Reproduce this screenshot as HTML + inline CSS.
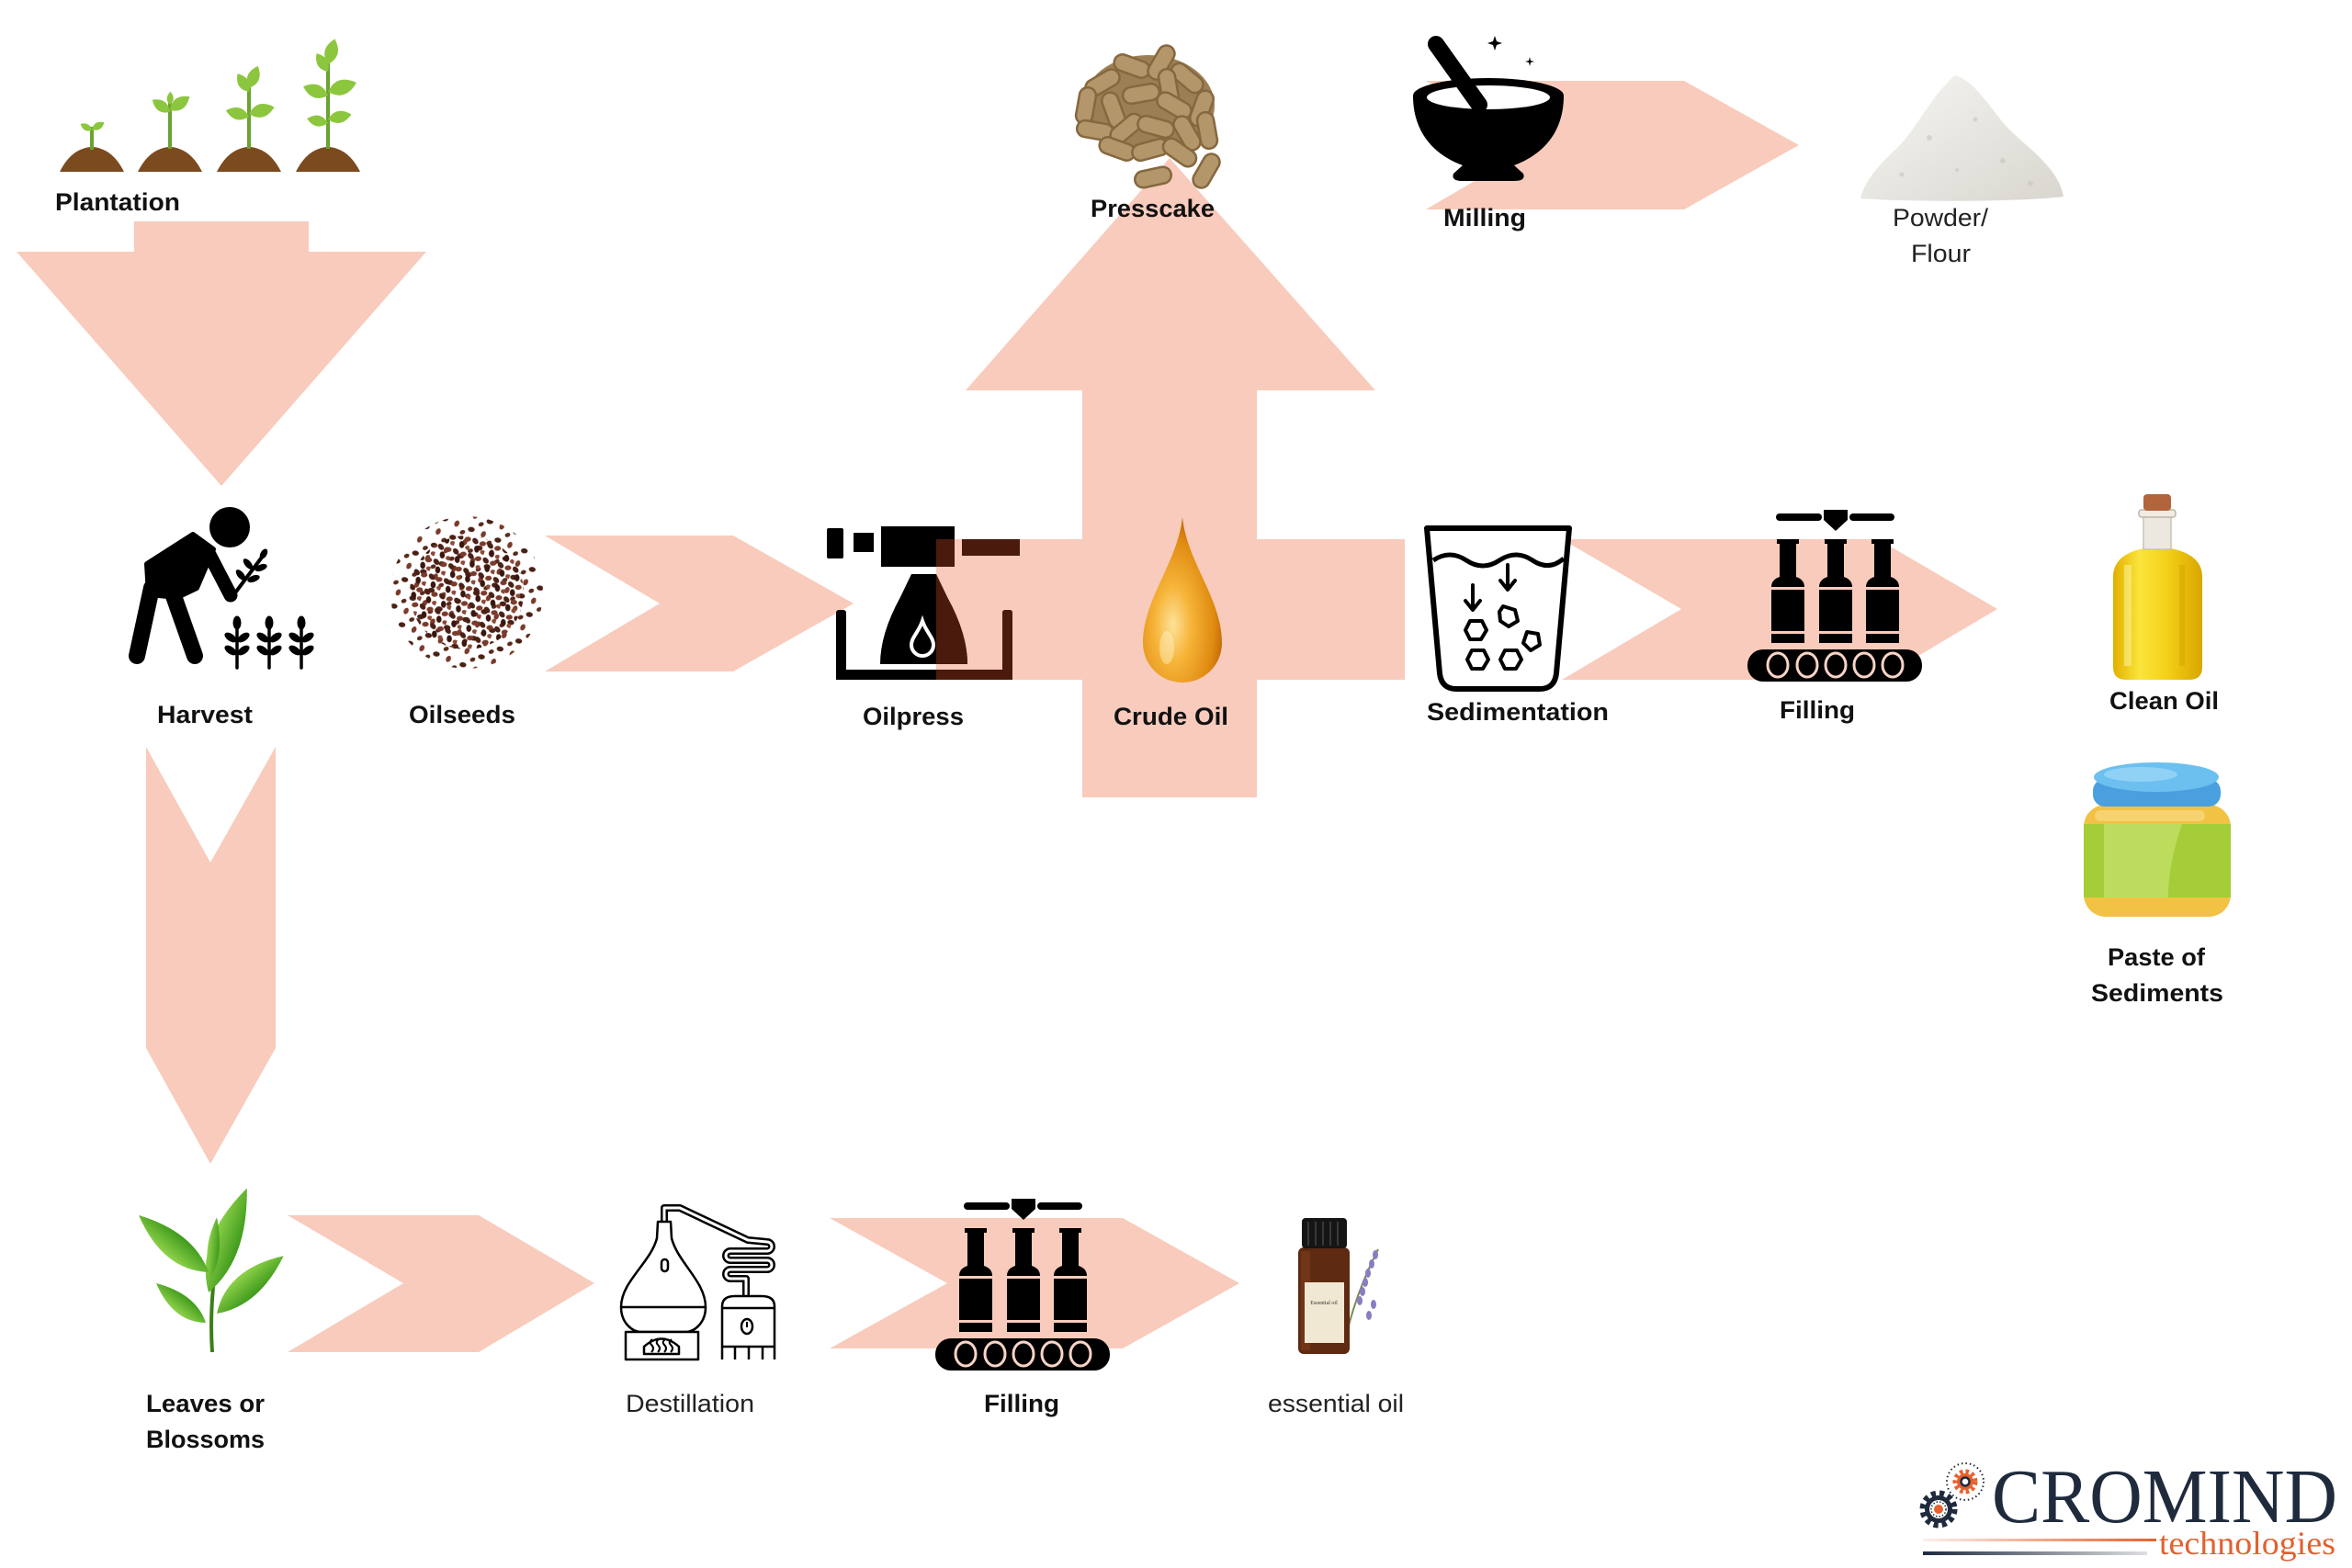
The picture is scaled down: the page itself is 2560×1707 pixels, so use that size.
<!DOCTYPE html>
<html><head><meta charset="utf-8">
<style>
html,body{margin:0;padding:0;background:#fff;}
body{width:2560px;height:1707px;overflow:hidden;}
svg{display:block;}
.lb{font-family:"Liberation Sans",Arial,sans-serif;font-weight:700;font-size:27px;fill:#111;}
.lr{font-family:"Liberation Sans",Arial,sans-serif;font-weight:400;font-size:27px;fill:#222;}
</style></head>
<body>
<svg width="2560" height="1707" viewBox="0 0 2560 1707" xmlns="http://www.w3.org/2000/svg">
<defs>
  <pattern id="seedD" width="17" height="17" patternUnits="userSpaceOnUse" patternTransform="rotate(17)">
    <ellipse cx="4" cy="4" rx="3.8" ry="2.8" fill="#4a2015" transform="rotate(35 4 4)"/>
    <ellipse cx="12.5" cy="4.5" rx="3.6" ry="2.7" fill="#7b3a2a" transform="rotate(-20 12.5 4.5)"/>
    <ellipse cx="8" cy="12" rx="3.8" ry="2.8" fill="#3a160e" transform="rotate(70 8 12)"/>
    <ellipse cx="15.5" cy="13.5" rx="3.2" ry="2.4" fill="#8c4a36"/>
  </pattern>
  <pattern id="seedS" width="22" height="22" patternUnits="userSpaceOnUse" patternTransform="rotate(-23)">
    <ellipse cx="5" cy="5" rx="3.7" ry="2.7" fill="#4a2015" transform="rotate(30 5 5)"/>
    <ellipse cx="15" cy="15" rx="3.6" ry="2.6" fill="#7b3a2a" transform="rotate(-40 15 15)"/>
    <ellipse cx="17" cy="4" rx="3" ry="2.3" fill="#5a2a1c"/>
  </pattern>
  <radialGradient id="oilg" cx="0.38" cy="0.65" r="0.65">
    <stop offset="0" stop-color="#fde29a"/>
    <stop offset="0.35" stop-color="#f6b53a"/>
    <stop offset="0.8" stop-color="#df8a10"/>
    <stop offset="1" stop-color="#c06a08"/>
  </radialGradient>
  <linearGradient id="bottleg" x1="0" x2="1" y1="0" y2="0">
    <stop offset="0" stop-color="#e2b000"/>
    <stop offset="0.3" stop-color="#fbe53c"/>
    <stop offset="0.6" stop-color="#f4d018"/>
    <stop offset="1" stop-color="#d8a600"/>
  </linearGradient>
  <linearGradient id="leafg" x1="0" x2="0" y1="0" y2="1">
    <stop offset="0" stop-color="#8fd24a"/>
    <stop offset="1" stop-color="#3f9a1c"/>
  </linearGradient>
  <linearGradient id="powg" x1="0" x2="1" y1="0" y2="1">
    <stop offset="0" stop-color="#f7f6f3"/>
    <stop offset="1" stop-color="#d9d6cf"/>
  </linearGradient>
  <linearGradient id="orl" x1="0" x2="1">
    <stop offset="0" stop-color="#e8612c" stop-opacity="0.1"/>
    <stop offset="1" stop-color="#e8612c"/>
  </linearGradient>
  <linearGradient id="dkl" x1="0" x2="1">
    <stop offset="0" stop-color="#1f2b3d"/>
    <stop offset="1" stop-color="#1f2b3d" stop-opacity="0.15"/>
  </linearGradient>
  <clipPath id="bandclip"><rect x="1019" y="587" width="510" height="153"/></clipPath>
  <path id="lf" d="M0,0 Q12,-13 26,0 Q12,13 0,0Z"/>
</defs>

<!-- ============ PINK ARROWS ============ -->
<g fill="#f8cbbc">
  <polygon points="146,241 336,241 336,274 464,274 241,529 18,274 146,274"/>
  <polygon points="159,813 229,939 300,813 300,1141 229,1267 159,1141"/>
  <polygon points="593,583 798,583 929,657 798,731 593,731 718,657"/>
  <rect x="1019" y="587" width="510" height="153"/>
  <rect x="1178" y="420" width="190" height="448"/>
  <polygon points="1051,425 1497,425 1273,172"/>
  <polygon points="1552,88 1833,88 1958,158 1833,228 1552,228 1672,158"/>
  <polygon points="1700,587 2044,587 2174,663 2044,740 1700,740 1830,663"/>
  <polygon points="313,1323 521,1323 647,1397 521,1472 313,1472 439,1397"/>
  <polygon points="903,1326 1222,1326 1349,1397 1222,1468 903,1468 1031,1397"/>
</g>

<!-- ============ PLANTATION ============ -->
<g fill="#7b4a1e">
  <path d="M65,187 Q75,167 90,162 Q100,158 110,162 Q125,167 135,187 Z"/>
  <path d="M150,187 Q160,167 175,162 Q185,158 195,162 Q210,167 220,187 Z"/>
  <path d="M236,187 Q246,167 261,162 Q271,158 281,162 Q296,167 306,187 Z"/>
  <path d="M322,187 Q332,167 347,162 Q357,158 367,162 Q382,167 392,187 Z"/>
</g>
<g stroke="#6aa332" stroke-width="4" fill="none">
  <line x1="100" y1="163" x2="100" y2="138"/>
  <line x1="185" y1="162" x2="185" y2="112"/>
  <line x1="271" y1="162" x2="271" y2="92"/>
  <line x1="357" y1="162" x2="357" y2="66"/>
</g>
<g fill="#8cc63f">
  <use href="#lf" transform="translate(100,141) rotate(-30) scale(0.6)"/>
  <use href="#lf" transform="translate(100,142) rotate(-150) scale(0.55)"/>
  <use href="#lf" transform="translate(185,120) rotate(-35) scale(1.0)"/>
  <use href="#lf" transform="translate(185,122) rotate(-145) scale(0.9)"/>
  <use href="#lf" transform="translate(185,114) rotate(-88) scale(0.55)"/>
  <use href="#lf" transform="translate(271,96) rotate(-68) scale(1.0)"/>
  <use href="#lf" transform="translate(271,100) rotate(-122) scale(0.9)"/>
  <use href="#lf" transform="translate(271,124) rotate(-15) scale(1.1)"/>
  <use href="#lf" transform="translate(271,127) rotate(-165) scale(1.0)"/>
  <use href="#lf" transform="translate(357,70) rotate(-75) scale(1.1)"/>
  <use href="#lf" transform="translate(357,78) rotate(-122) scale(0.9)"/>
  <use href="#lf" transform="translate(357,100) rotate(-18) scale(1.25)"/>
  <use href="#lf" transform="translate(357,104) rotate(-160) scale(1.1)"/>
  <use href="#lf" transform="translate(357,130) rotate(-12) scale(1.0)"/>
  <use href="#lf" transform="translate(357,134) rotate(-168) scale(0.9)"/>
</g>

<!-- ============ HARVEST ============ -->
<g fill="#000" stroke="#000" stroke-linecap="round" stroke-linejoin="round">
  <circle cx="250" cy="574" r="22" stroke="none"/>
  <polygon points="160,614 210,582 232,598 214,640 193,650 162,647" stroke-width="6"/>
  <line x1="165" y1="640" x2="149" y2="714" stroke-width="18"/>
  <line x1="188" y1="646" x2="212" y2="714" stroke-width="18"/>
  <line x1="226" y1="600" x2="251" y2="648" stroke-width="15"/>
  <line x1="254" y1="648" x2="287" y2="604" stroke-width="4"/>
  <g stroke="none">
    <ellipse cx="262" cy="626" rx="7" ry="3.5" transform="rotate(-130 262 626)"/>
    <ellipse cx="276" cy="630" rx="7" ry="3.5" transform="rotate(-20 276 630)"/>
    <ellipse cx="270" cy="614" rx="7" ry="3.5" transform="rotate(-130 270 614)"/>
    <ellipse cx="284" cy="618" rx="7" ry="3.5" transform="rotate(-20 284 618)"/>
    <ellipse cx="287" cy="603" rx="6" ry="3.5" transform="rotate(-60 287 603)"/>
  </g>
  <g stroke-width="3.5">
    <line x1="258" y1="680" x2="258" y2="727"/>
    <line x1="293" y1="680" x2="293" y2="727"/>
    <line x1="328" y1="680" x2="328" y2="727"/>
  </g>
  <g stroke="none">
    <ellipse cx="258" cy="678" rx="4.5" ry="7.5"/>
    <ellipse cx="293" cy="678" rx="4.5" ry="7.5"/>
    <ellipse cx="328" cy="678" rx="4.5" ry="7.5"/>
    <ellipse cx="251" cy="694" rx="7.5" ry="4" transform="rotate(35 251 694)"/>
    <ellipse cx="265" cy="694" rx="7.5" ry="4" transform="rotate(-35 265 694)"/>
    <ellipse cx="251" cy="708" rx="7.5" ry="4" transform="rotate(35 251 708)"/>
    <ellipse cx="265" cy="708" rx="7.5" ry="4" transform="rotate(-35 265 708)"/>
    <ellipse cx="286" cy="694" rx="7.5" ry="4" transform="rotate(35 286 694)"/>
    <ellipse cx="300" cy="694" rx="7.5" ry="4" transform="rotate(-35 300 694)"/>
    <ellipse cx="286" cy="708" rx="7.5" ry="4" transform="rotate(35 286 708)"/>
    <ellipse cx="300" cy="708" rx="7.5" ry="4" transform="rotate(-35 300 708)"/>
    <ellipse cx="321" cy="694" rx="7.5" ry="4" transform="rotate(35 321 694)"/>
    <ellipse cx="335" cy="694" rx="7.5" ry="4" transform="rotate(-35 335 694)"/>
    <ellipse cx="321" cy="708" rx="7.5" ry="4" transform="rotate(35 321 708)"/>
    <ellipse cx="335" cy="708" rx="7.5" ry="4" transform="rotate(-35 335 708)"/>
  </g>
</g>

<!-- ============ OILSEEDS ============ -->
<circle cx="508" cy="645" r="83" fill="url(#seedS)"/>
<circle cx="508" cy="645" r="62" fill="url(#seedD)"/>

<!-- ============ OILPRESS ============ -->
<g fill="#000">
  <g id="op">
    <rect x="900" y="575" width="18" height="33" rx="2"/>
    <rect x="929" y="580" width="22" height="21"/>
    <rect x="959" y="573" width="80" height="44"/>
    <rect x="1047" y="587" width="63" height="18"/>
    <path d="M992,625 L1019,625 L1031,650 Q1053,690 1053,723 L958,723 Q958,690 980,650 Z"/>
    <rect x="910" y="664" width="11" height="76" rx="3"/>
    <rect x="910" y="729" width="192" height="11"/>
    <rect x="1091" y="664" width="11" height="76" rx="3"/>
  </g>
</g>
<use href="#op" fill="#4a1a0c" clip-path="url(#bandclip)"/>
<path d="M1004,676 C1008,688 1016,694 1016,702 A12,12 0 0 1 992,702 C992,694 1000,688 1004,676 Z" fill="none" stroke="#fff" stroke-width="4"/>

<!-- ============ CRUDE OIL ============ -->
<path d="M1287,563 C1292,612 1330,652 1330,700 A43,43 0 0 1 1244,700 C1244,652 1282,612 1287,563 Z" fill="url(#oilg)"/>
<ellipse cx="1270" cy="705" rx="8" ry="18" fill="#fff3c8" opacity="0.45"/>

<!-- ============ PRESSCAKE ============ -->
<ellipse cx="1250" cy="115" rx="72" ry="55" fill="#9c7f54"/>
<g fill="#b3966a" stroke="#86683f" stroke-width="2.5">
  <rect x="-20" y="-9" width="40" height="18" rx="9" transform="translate(1200,90) rotate(-30)"/>
  <rect x="-20" y="-9" width="40" height="18" rx="9" transform="translate(1232,72) rotate(20)"/>
  <rect x="-20" y="-9" width="40" height="18" rx="9" transform="translate(1264,68) rotate(-60)"/>
  <rect x="-20" y="-9" width="40" height="18" rx="9" transform="translate(1292,85) rotate(40)"/>
  <rect x="-20" y="-9" width="40" height="18" rx="9" transform="translate(1182,115) rotate(-80)"/>
  <rect x="-20" y="-9" width="40" height="18" rx="9" transform="translate(1212,120) rotate(70)"/>
  <rect x="-20" y="-9" width="40" height="18" rx="9" transform="translate(1242,102) rotate(-10)"/>
  <rect x="-20" y="-9" width="40" height="18" rx="9" transform="translate(1272,95) rotate(80)"/>
  <rect x="-20" y="-9" width="40" height="18" rx="9" transform="translate(1278,115) rotate(30)"/>
  <rect x="-20" y="-9" width="40" height="18" rx="9" transform="translate(1308,118) rotate(-70)"/>
  <rect x="-20" y="-9" width="40" height="18" rx="9" transform="translate(1192,142) rotate(10)"/>
  <rect x="-20" y="-9" width="40" height="18" rx="9" transform="translate(1226,140) rotate(-40)"/>
  <rect x="-20" y="-9" width="40" height="18" rx="9" transform="translate(1258,138) rotate(15)"/>
  <rect x="-20" y="-9" width="40" height="18" rx="9" transform="translate(1292,145) rotate(60)"/>
  <rect x="-20" y="-9" width="40" height="18" rx="9" transform="translate(1314,142) rotate(80)"/>
  <rect x="-20" y="-9" width="40" height="18" rx="9" transform="translate(1216,162) rotate(20)"/>
  <rect x="-20" y="-9" width="40" height="18" rx="9" transform="translate(1252,163) rotate(-15)"/>
  <rect x="-20" y="-9" width="40" height="18" rx="9" transform="translate(1284,166) rotate(35)"/>
  <rect x="-20" y="-9" width="40" height="18" rx="9" transform="translate(1255,193) rotate(-12)"/>
  <rect x="-20" y="-9" width="40" height="18" rx="9" transform="translate(1313,186) rotate(-60)"/>
</g>

<!-- ============ MILLING ============ -->
<g fill="#000">
  <path d="M1538,104 C1538,148 1565,170 1592,180 L1582,189 Q1579,197 1592,197 L1648,197 Q1661,197 1658,189 L1648,180 C1675,170 1702,148 1702,104 Z"/>
  <ellipse cx="1620" cy="104" rx="82" ry="19"/>
</g>
<ellipse cx="1620" cy="106" rx="67" ry="13" fill="#fff"/>
<line x1="1563" y1="48" x2="1610" y2="114" stroke="#000" stroke-width="18" stroke-linecap="round"/>
<path d="M1627,39 L1629,45 L1635,47 L1629,49 L1627,55 L1625,49 L1619,47 L1625,45 Z" fill="#000"/>
<path d="M1665,62 L1666,66 L1670,67 L1666,68 L1665,72 L1664,68 L1660,67 L1664,66 Z" fill="#000"/>

<!-- ============ POWDER ============ -->
<path d="M2025,216 C2030,196 2046,178 2066,160 C2086,140 2102,104 2128,82 C2150,88 2166,118 2186,140 C2208,162 2240,182 2246,214 C2200,220 2070,220 2025,216 Z" fill="url(#powg)"/>
<g fill="#c9c5bc" opacity="0.6">
  <circle cx="2100" cy="150" r="3"/><circle cx="2150" cy="130" r="2.5"/><circle cx="2180" cy="175" r="3"/>
  <circle cx="2070" cy="190" r="2.5"/><circle cx="2210" cy="200" r="3"/><circle cx="2130" cy="185" r="2"/>
</g>

<!-- ============ SEDIMENTATION ============ -->
<path d="M1553,575 L1708,575 L1694,733 Q1692,750 1676,750 L1585,750 Q1569,750 1567,733 Z" fill="#fff" stroke="#000" stroke-width="6" stroke-linejoin="round"/>
<path d="M1560,610 Q1578,598 1596,610 Q1614,622 1632,610 Q1650,598 1668,610 Q1686,622 1702,608" fill="none" stroke="#000" stroke-width="5"/>
<g stroke="#000" stroke-width="4" fill="none" stroke-linecap="round" stroke-linejoin="round">
  <line x1="1603" y1="637" x2="1603" y2="663"/><polyline points="1595,654 1603,664 1611,654"/>
  <line x1="1641" y1="615" x2="1641" y2="641"/><polyline points="1633,632 1641,642 1649,632"/>
  <polygon points="1600,676 1613,676 1618,686 1612,696 1600,696 1595,686"/>
  <polygon points="1636,660 1649,664 1652,676 1642,682 1633,676 1632,666"/>
  <polygon points="1662,688 1674,690 1676,702 1666,708 1658,700"/>
  <polygon points="1602,708 1615,708 1620,718 1614,728 1602,728 1597,718"/>
  <polygon points="1638,708 1651,708 1656,718 1650,728 1638,728 1633,718"/>
</g>

<!-- ============ FILLING (top) ============ -->
<g id="fill" fill="#000">
  <rect x="1933" y="559" width="50" height="8" rx="4"/>
  <rect x="2013" y="559" width="49" height="8" rx="4"/>
  <polygon points="1985,555 2011,555 2011,566 1998,578 1985,566"/>
  <g id="bt">
    <rect x="1934" y="587" width="24" height="5"/>
    <rect x="1937" y="592" width="18" height="36"/>
    <path d="M1937,628 L1955,628 Q1964,631 1964,639 L1928,639 Q1928,631 1937,628 Z"/>
    <rect x="1928" y="642" width="36" height="45"/>
    <rect x="1928" y="690" width="36" height="10"/>
  </g>
  <use href="#bt" transform="translate(52,0)"/>
  <use href="#bt" transform="translate(103,0)"/>
  <rect x="1902" y="707" width="190" height="35" rx="17"/>
  <g fill="none" stroke="#f8d4c6" stroke-width="3">
    <ellipse cx="1935" cy="724" rx="11" ry="13"/>
    <ellipse cx="1967" cy="724" rx="11" ry="13"/>
    <ellipse cx="1998" cy="724" rx="11" ry="13"/>
    <ellipse cx="2029" cy="724" rx="11" ry="13"/>
    <ellipse cx="2060" cy="724" rx="11" ry="13"/>
  </g>
</g>
<use href="#fill" transform="translate(-884,750)"/>

<!-- ============ CLEAN OIL ============ -->
<path d="M2333,597 Q2300,604 2300,628 L2300,726 Q2300,740 2314,740 L2383,740 Q2397,740 2397,726 L2397,628 Q2397,604 2363,597 Z" fill="url(#bottleg)"/>
<rect x="2312" y="615" width="8" height="110" fill="#fff6a0" opacity="0.5"/>
<rect x="2372" y="615" width="6" height="110" fill="#c99a00" opacity="0.35"/>
<rect x="2333" y="562" width="30" height="36" fill="#ece8df" stroke="#c9c2b5" stroke-width="1.5"/>
<rect x="2328" y="555" width="40" height="8" rx="3" fill="#f1ece3" stroke="#bdb5a8" stroke-width="1.5"/>
<rect x="2333" y="538" width="30" height="18" rx="4" fill="#b2643c"/>

<!-- ============ PASTE JAR ============ -->
<rect x="2268" y="876" width="160" height="122" rx="24" fill="#f2c244"/>
<rect x="2268" y="897" width="160" height="80" fill="#a4cd38"/>
<path d="M2290,897 L2375,897 Q2360,940 2360,977 L2290,977 Z" fill="#c3e066" opacity="0.8"/>
<rect x="2280" y="882" width="120" height="12" rx="6" fill="#f8d77a" opacity="0.8"/>
<rect x="2278" y="848" width="139" height="30" rx="13" fill="#4aa0de"/>
<ellipse cx="2347" cy="846" rx="68" ry="16" fill="#6cc0f0"/>
<ellipse cx="2330" cy="843" rx="40" ry="8" fill="#9ad6f6" opacity="0.8"/>

<!-- ============ LEAVES ============ -->
<path d="M231,1472 C228,1430 232,1380 243,1330" fill="none" stroke="#3c7f16" stroke-width="4"/>
<g fill="url(#leafg)">
  <path d="M0,0 Q48,-34 121,0 Q48,28 0,0Z" transform="translate(227,1407) rotate(-69.8)"/>
  <path d="M0,0 Q40,-30 98,0 Q40,24 0,0Z" transform="translate(227,1385) rotate(-140.8)"/>
  <path d="M0,0 Q28,-22 69,0 Q28,18 0,0Z" transform="translate(224,1440) rotate(-141.5)"/>
  <path d="M0,0 Q40,-30 96,0 Q40,24 0,0Z" transform="translate(236,1430) rotate(-40.8)"/>
  <path d="M0,0 Q26,-14 65,0 Q26,12 0,0Z" transform="translate(230,1390) rotate(-84.7)"/>
</g>

<!-- ============ DESTILLATION ============ -->
<g fill="#fff" stroke="#000" stroke-width="2.5" stroke-linejoin="round">
  <path d="M723,1340 L723,1315 L740,1315 L814,1350 L835,1352 A5,5 0 0 1 835,1362 L795,1362 A5,5 0 0 0 795,1372 L835,1372 A5,5 0 0 1 835,1382 L795,1382 A5,5 0 0 0 795,1392 L812,1392 L812,1412" fill="none" stroke-width="8"/>
  <path d="M723,1340 L723,1315 L740,1315 L814,1350 L835,1352 A5,5 0 0 1 835,1362 L795,1362 A5,5 0 0 0 795,1372 L835,1372 A5,5 0 0 1 835,1382 L795,1382 A5,5 0 0 0 795,1392 L812,1392 L812,1412" fill="none" stroke="#fff" stroke-width="3"/>
  <path d="M716,1330 L730,1330 L731,1348 C738,1375 768,1395 768,1423 C768,1440 756,1450 746,1450 L698,1450 C688,1450 676,1440 676,1423 C676,1395 708,1375 715,1348 Z"/>
  <line x1="677" y1="1423" x2="767" y2="1423"/>
  <rect x="720" y="1371" width="7" height="13" rx="3.5"/>
  <rect x="681" y="1450" width="79" height="30"/>
  <path d="M701,1474 L701,1466 Q720,1449 739,1466 L739,1474 Z"/>
  <path d="M709,1472 q4,-4 0,-8 q-3,-3 1,-6 M716,1472 q4,-4 0,-8 q-3,-3 1,-6 M723,1472 q4,-4 0,-8 q-3,-3 1,-6 M730,1472 q4,-4 0,-8 q-3,-3 1,-6" fill="none" stroke-width="2"/>
  <path d="M786,1480 L786,1422 Q786,1411 800,1411 L829,1411 Q843,1411 843,1422 L843,1480"/>
  <line x1="786" y1="1424" x2="843" y2="1424"/>
  <line x1="786" y1="1466" x2="843" y2="1466"/>
  <line x1="800" y1="1466" x2="800" y2="1480"/><line x1="815" y1="1466" x2="815" y2="1480"/><line x1="830" y1="1466" x2="830" y2="1480"/>
  <ellipse cx="813" cy="1444" rx="6" ry="8"/>
  <line x1="813" y1="1439" x2="813" y2="1445" stroke-width="2"/>
</g>

<!-- ============ ESSENTIAL OIL ============ -->
<path d="M1462,1472 Q1470,1420 1500,1360" fill="none" stroke="#7a8a5a" stroke-width="2"/>
<g fill="#8a7cc0">
  <ellipse cx="1497" cy="1366" rx="3" ry="5"/><ellipse cx="1493" cy="1376" rx="3" ry="5"/><ellipse cx="1489" cy="1386" rx="3" ry="5"/>
  <ellipse cx="1486" cy="1396" rx="3" ry="5"/><ellipse cx="1483" cy="1406" rx="3" ry="5"/><ellipse cx="1480" cy="1416" rx="3" ry="5"/>
  <ellipse cx="1495" cy="1420" rx="3" ry="5"/><ellipse cx="1490" cy="1432" rx="3" ry="5"/>
</g>
<rect x="1413" y="1358" width="56" height="116" rx="6" fill="#5e2a12"/>
<rect x="1416" y="1362" width="10" height="108" fill="#7e3e1c" opacity="0.6"/>
<rect x="1420" y="1396" width="43" height="66" fill="#f1e8d3"/>
<text x="1441" y="1420" font-family="Liberation Serif,serif" font-size="6" text-anchor="middle" fill="#333">Essential oil</text>
<rect x="1417" y="1326" width="49" height="33" rx="4" fill="#151515"/>
<g stroke="#444" stroke-width="1.5"><line x1="1424" y1="1330" x2="1424" y2="1356"/><line x1="1432" y1="1330" x2="1432" y2="1356"/><line x1="1440" y1="1330" x2="1440" y2="1356"/><line x1="1448" y1="1330" x2="1448" y2="1356"/><line x1="1456" y1="1330" x2="1456" y2="1356"/></g>

<!-- ============ LOGO ============ -->
<g>
  <circle cx="2139" cy="1613" r="20" fill="none" stroke="#1f2b3d" stroke-width="2" stroke-dasharray="1.5 3"/>
  <circle cx="2139" cy="1613" r="9" fill="#e8612c"/>
  <circle cx="2139" cy="1613" r="11" fill="none" stroke="#e8612c" stroke-width="5" stroke-dasharray="3.5 3"/>
  <circle cx="2139" cy="1613" r="4.5" fill="#fff" stroke="#1f2b3d" stroke-width="2.5"/>
  <circle cx="2110" cy="1643" r="15" fill="#1f2b3d"/>
  <circle cx="2110" cy="1643" r="17" fill="none" stroke="#1f2b3d" stroke-width="7" stroke-dasharray="5 4"/>
  <circle cx="2110" cy="1643" r="10" fill="#fff"/>
  <circle cx="2110" cy="1643" r="8" fill="none" stroke="#1f2b3d" stroke-width="1.5" stroke-dasharray="1.5 2"/>
  <circle cx="2110" cy="1643" r="5" fill="#e8612c"/>
  <text x="2168" y="1657" font-family="Liberation Serif,serif" font-size="84" fill="#1f2b3d" textLength="376" lengthAdjust="spacingAndGlyphs">CROMIND</text>
  <rect x="2093" y="1675" width="254" height="3" fill="url(#orl)"/>
  <rect x="2093" y="1689" width="244" height="4" fill="url(#dkl)"/>
  <text x="2350" y="1692" font-family="Liberation Serif,serif" font-size="36" fill="#e2612f" textLength="192" lengthAdjust="spacingAndGlyphs">technologies</text>
</g>

<!-- ============ LABELS ============ -->
<text class="lb" x="60" y="229" textLength="136" lengthAdjust="spacingAndGlyphs">Plantation</text>
<text class="lb" x="171" y="787" textLength="104" lengthAdjust="spacingAndGlyphs">Harvest</text>
<text class="lb" x="445" y="787" textLength="116" lengthAdjust="spacingAndGlyphs">Oilseeds</text>
<text class="lb" x="939" y="789" textLength="110" lengthAdjust="spacingAndGlyphs">Oilpress</text>
<text class="lb" x="1212" y="789" textLength="125" lengthAdjust="spacingAndGlyphs">Crude Oil</text>
<text class="lb" x="1187" y="236" textLength="135" lengthAdjust="spacingAndGlyphs">Presscake</text>
<text class="lb" x="1571" y="246" textLength="90" lengthAdjust="spacingAndGlyphs">Milling</text>
<text class="lr" x="2060" y="246" textLength="104" lengthAdjust="spacingAndGlyphs">Powder/</text>
<text class="lr" x="2080" y="285" textLength="65" lengthAdjust="spacingAndGlyphs">Flour</text>
<text class="lb" x="1553" y="784" textLength="198" lengthAdjust="spacingAndGlyphs">Sedimentation</text>
<text class="lb" x="1937" y="782" textLength="82" lengthAdjust="spacingAndGlyphs">Filling</text>
<text class="lb" x="2296" y="772" textLength="119" lengthAdjust="spacingAndGlyphs">Clean Oil</text>
<text class="lb" x="2294" y="1051" textLength="106" lengthAdjust="spacingAndGlyphs">Paste of</text>
<text class="lb" x="2276" y="1090" textLength="144" lengthAdjust="spacingAndGlyphs">Sediments</text>
<text class="lb" x="159" y="1537" textLength="129" lengthAdjust="spacingAndGlyphs">Leaves or</text>
<text class="lb" x="159" y="1576" textLength="129" lengthAdjust="spacingAndGlyphs">Blossoms</text>
<text class="lr" x="681" y="1537" textLength="140" lengthAdjust="spacingAndGlyphs">Destillation</text>
<text class="lb" x="1071" y="1537" textLength="82" lengthAdjust="spacingAndGlyphs">Filling</text>
<text class="lr" x="1380" y="1537" textLength="148" lengthAdjust="spacingAndGlyphs">essential oil</text>
</svg>
</body></html>
